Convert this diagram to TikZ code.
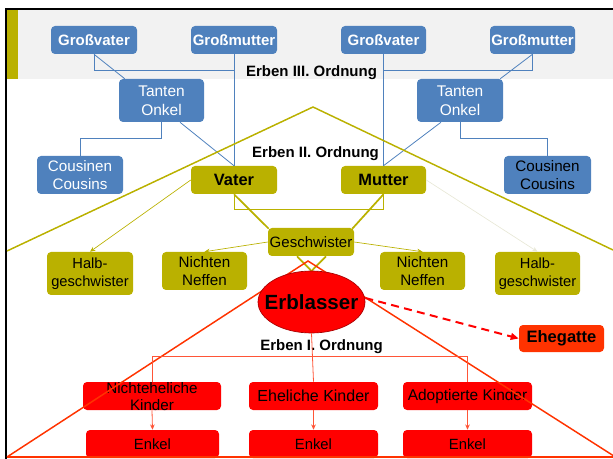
\documentclass[tikz,border=0pt]{standalone}
\usepackage{fontspec}
\setmainfont{Liberation Sans}
\usetikzlibrary{calc,arrows.meta,shapes.geometric}
\definecolor{cblue}{RGB}{79,129,189}
\definecolor{colive}{RGB}{186,177,0}
\definecolor{cgray}{RGB}{242,242,242}
\definecolor{cred}{RGB}{255,0,0}
\definecolor{corange}{RGB}{255,51,0}
\definecolor{credline}{RGB}{255,85,55}
\definecolor{cfaint}{RGB}{232,232,215}
\begin{document}
\begin{tikzpicture}[x=0.75pt,y=-0.75pt,
  sz/.style 2 args={minimum width=#1*0.75pt, minimum height=#2*0.75pt},
  box/.style={rounded corners=3pt, inner sep=0pt, align=center},
  bluebox/.style={box, fill=cblue},
  olivebox/.style={box, fill=colive},
  redbox/.style={box, fill=cred},
  fs/.style 2 args={font=\fontsize{#1}{#2}\selectfont},
  fb/.style 2 args={font=\bfseries\fontsize{#1}{#2}\selectfont},
  bline/.style={draw=cblue, line width=0.6pt},
  oline/.style={draw=colive, line width=0.6pt},
  othick/.style={draw=colive, line width=1.3pt},
  oarrow/.style={draw=colive, line width=0.5pt, -{Stealth[length=4pt,width=3.5pt]}},
  rline/.style={draw=credline, line width=0.6pt},
  rarrow/.style={draw=credline, line width=0.6pt, -{Stealth[length=4pt,width=3.5pt]}},
  lbl/.style={inner sep=0pt, font=\bfseries\fontsize{11.25}{13}\selectfont}
]
\useasboundingbox (0,0) rectangle (613,459);
% background band and frame
\fill[cgray] (7,10.5) rectangle (613,79);
\fill[colive] (7,10.5) rectangle (18,79);
\draw[line width=1.5pt] (6,459) -- (6,9) -- (613,9);

% labels of orders
\node[lbl] (o3) at (311.5,72.5) {Erben III. Ordnung};
\node[lbl] (o2) at (315.5,153.5) {Erben II. Ordnung};

% blue boxes
\node[bluebox, sz={86}{28}, fb={11.25}{13}, text=white] (gv1) at (94,40) {Großvater};
\node[bluebox, sz={86}{28}, fb={11.25}{13}, text=white] (gm1) at (234,40) {Großmutter};
\node[bluebox, sz={85}{28}, fb={11.25}{13}, text=white] (gv2) at (383.5,40) {Großvater};
\node[bluebox, sz={85}{28}, fb={11.25}{13}, text=white] (gm2) at (532.5,40) {Großmutter};
\node[bluebox, sz={85}{43}, fs={11.6}{14.5}, text=white] (t1) at (161.5,100.5) {Tanten\\Onkel};
\node[bluebox, sz={86}{43}, fs={11.6}{14.5}, text=white] (t2) at (460,100.5) {Tanten\\Onkel};
\node[bluebox, sz={86}{38}, fs={11.4}{13.8}, text=white] (c1) at (80,175) {Cousinen\\Cousins};
\node[bluebox, sz={87}{38}, fs={11.4}{13.8}, text=black] (c2) at (547.5,175) {Cousinen\\Cousins};

% olive boxes
\node[olivebox, sz={86}{28}, fb={12.3}{14}] (vater) at (234,180) {Vater};
\node[olivebox, sz={85}{28}, fb={12.3}{14}] (mutter) at (383.5,180) {Mutter};
\node[olivebox, sz={86}{28}, fs={11.25}{13}] (gesch) at (311,242) {Geschwister};
\node[olivebox, sz={86}{43}, fs={11}{13.3}] (h1) at (90,273.5) {Halb-\\geschwister};
\node[olivebox, sz={85}{38}, fs={11.4}{13.7}] (n1) at (204.5,271) {Nichten\\Neffen};
\node[olivebox, sz={85}{38}, fs={11.4}{13.7}] (n2) at (422.5,271) {Nichten\\Neffen};
\node[olivebox, sz={85}{43}, fs={11}{13.3}] (h2) at (537.5,273.5) {Halb-\\geschwister};

% blue connectors
\draw[bline] (gv1.south) -- ++(0,16) -| (gm1.south);
\draw[bline] (gm1.south) -- (vater.north);
\draw[bline] (gv1.south) -- ($(t1.north west)+(6,0)$);
\draw[bline] (t1.south) -- ++(0,16) -| (c1.north);
\draw[bline] ($(t1.south)+(18.5,0)$) -- (vater.north);
\draw[bline] (gv2.south) -- (mutter.north);
\draw[bline] (gv2.south) -- ++(0,16) -| (gm2.south);
\draw[bline] (gm2.south) -- ($(t2.north east)+(-3,0)$);
\draw[bline] (t2.south) -- ++(0,16) -| (c2.north);
\draw[bline] ($(t2.south)+(-19,0)$) -- (mutter.north);

% olive connectors
\draw[oline] (vater.south) -- ++(0,15) -| (mutter.south);
\draw[othick] (vater.south) -- ($(gesch.north west)+(1,1)$);
\draw[othick] (mutter.south) -- ($(gesch.north east)+(-2,1)$);
\draw[oarrow] (vater.west) -- (h1.north);
\draw[oarrow, draw=cfaint] (mutter.east) -- (h2.north);
\draw[oarrow] (gesch.west) -- (n1.north);
\draw[oarrow] (gesch.east) -- (n2.north);

% olive triangle
\draw[colive, line width=1.1pt] (7,251) -- (313,107) -- (613,250);

% red boxes
\node[redbox, sz={138}{28}] (nk) at (152,396) {};
\node[inner sep=0pt, align=center, fs={11.4}{12.5}] (nkt) at (152,396.5) {Nichteheliche\\Kinder};
\node[redbox, sz={129}{28}, fs={12}{14}] (ek) at (313.5,396) {Eheliche Kinder};
\node[redbox, sz={129}{28}, fs={11.6}{14}] (ak) at (467.5,396) {Adoptierte Kinder};
\node[redbox, sz={133}{28}, fs={11.1}{13}] (en1) at (152.5,444) {Enkel};
\node[redbox, sz={129}{28}, fs={11.1}{13}] (en2) at (313.5,444) {Enkel};
\node[redbox, sz={129}{28}, fs={11.1}{13}] (en3) at (467.5,444) {Enkel};
\node[box, fill=corange, sz={85}{27}, fb={12.4}{14}] (ehe) at (561.5,338.5) {Ehegatte};

% V lines from Geschwister to Erblasser
\draw[othick] ($(gesch.south)+(-14,0)$) -- (311.5,271);
\draw[othick] ($(gesch.south)+(15,0)$) -- (311.5,271);

% red triangle
\draw[corange, line width=1.1pt] (7,457) -- (308,261) -- (617,458);
\draw[corange, line width=1.1pt] (7,457) -- (613,457);

% Erblasser
\node[ellipse, fill=cred, draw=red!65!black, line width=0.5pt, inner sep=0pt,
      minimum width=107*0.75pt, minimum height=62*0.75pt] (erb) at (311.5,302) {};
\node[inner sep=0pt, fb={15.4}{17}] (erbt) at (311.5,302) {Erblasser};

\node[lbl] (o1) at (321.5,347) {Erben I. Ordnung};

% red connectors
\draw[rline] (erb.south) -- (ek.north);
\draw[rline] (nk.north) -- ++(0,-25) -| (ak.north);
\draw[rarrow] (nk.south) -- (en1.north);
\draw[rarrow] (ek.south) -- (en2.north);
\draw[rarrow] (ak.south) -- (en3.north);
\draw[draw=cred, line width=1.5pt, dash pattern=on 6pt off 4pt,
      -{Triangle[length=6pt,width=5pt]}] ($(erb.east)+(0,-4)$) -- (ehe.west);
\end{tikzpicture}
\end{document}
